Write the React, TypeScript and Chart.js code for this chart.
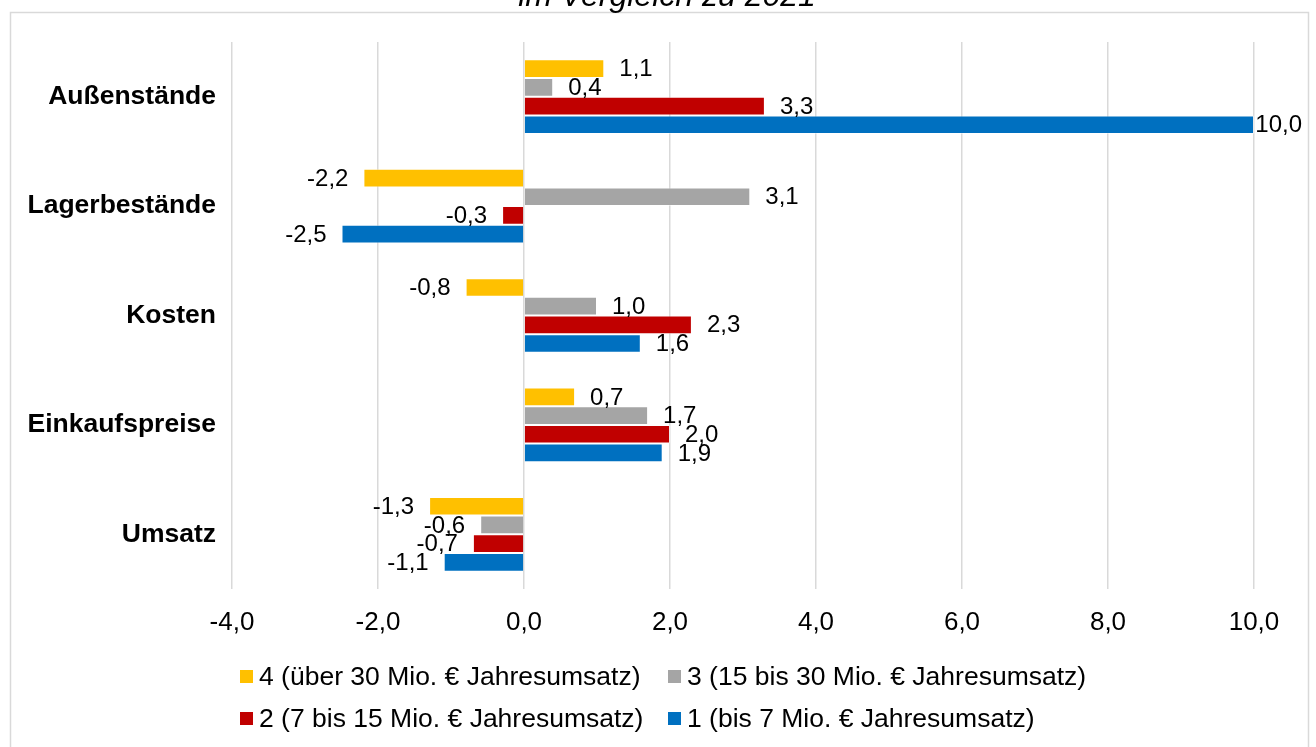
import React, { useEffect, useRef } from 'react';
import { Chart, registerables } from 'chart.js';

Chart.register(...registerables);

const titleText = 'im Vergleich zu 2021';
const categories = ['Außenstände', 'Lagerbestände', 'Kosten', 'Einkaufspreise', 'Umsatz'];
const seriesLabels = [
  '4 (über 30 Mio. € Jahresumsatz)',
  '3 (15 bis 30 Mio. € Jahresumsatz)',
  '2 (7 bis 15 Mio. € Jahresumsatz)',
  '1 (bis 7 Mio. € Jahresumsatz)',
];
const series4 = [1.1, -2.2, -0.8, 0.7, -1.3];
const series3 = [0.4, 3.1, 1.0, 1.7, -0.6];
const series2 = [3.3, -0.3, 2.3, 2.0, -0.7];
const series1 = [10.0, -2.5, 1.6, 1.9, -1.1];
const seriesColors = ['#FFC000', '#A5A5A5', '#C00000', '#0070C0'];
const xMin = -4;
const xMax = 10;
const xStep = 2;

const FONT = "'Liberation Sans', Arial, sans-serif";
const fmt = (v: number) => v.toFixed(1).replace('.', ',');

const decorPlugin = {
  id: 'decor',
  beforeDraw(chart: any) {
    const ctx = chart.ctx;
    ctx.save();
    ctx.fillStyle = '#ffffff';
    ctx.fillRect(0, 0, chart.width, chart.height);
    ctx.strokeStyle = '#d9d9d9';
    ctx.lineWidth = 1.5;
    ctx.strokeRect(10.5, 12.5, chart.width - 18, chart.height + 20);
    ctx.restore();
  },
  afterDraw(chart: any) {
    const ctx = chart.ctx;
    ctx.save();
    // title (partly cut by the top edge)
    ctx.fillStyle = '#000000';
    ctx.font = `italic 32px ${FONT}`;
    ctx.textAlign = 'center';
    ctx.textBaseline = 'alphabetic';
    ctx.fillText(titleText, 667, 6);
    // legend: 2 columns x 2 rows
    const colX = [240, 668];
    const rowY = [677, 719];
    ctx.font = `26.5px ${FONT}`;
    ctx.textAlign = 'left';
    ctx.textBaseline = 'middle';
    chart.data.datasets.forEach((ds: any, i: number) => {
      const cx = colX[i % 2];
      const cy = rowY[Math.floor(i / 2)];
      ctx.fillStyle = ds.backgroundColor;
      ctx.fillRect(cx, cy - 7, 13, 13);
      ctx.fillStyle = '#000000';
      ctx.fillText(ds.label, cx + 19, cy + 1);
    });
    ctx.restore();
  },
};

const labelPlugin = {
  id: 'valueLabels',
  afterDatasetsDraw(chart: any) {
    const ctx = chart.ctx;
    ctx.save();
    ctx.font = `24px ${FONT}`;
    ctx.fillStyle = '#000000';
    ctx.textBaseline = 'middle';
    chart.data.datasets.forEach((ds: any, di: number) => {
      const meta = chart.getDatasetMeta(di);
      meta.data.forEach((el: any, i: number) => {
        const v = ds.data[i] as number;
        const txt = fmt(v);
        const w = ctx.measureText(txt).width;
        if (v >= 0) {
          let x = el.x + 15;
          if (x + w > chart.width - 14) x = chart.width - 14 - w;
          ctx.textAlign = 'left';
          ctx.fillText(txt, x, el.y + 1);
        } else {
          ctx.textAlign = 'right';
          ctx.fillText(txt, el.x - 15, el.y + 1);
        }
      });
    });
    ctx.restore();
  },
};

export default function App() {
  const ref = useRef<HTMLCanvasElement | null>(null);
  useEffect(() => {
    document.body.style.margin = '0';
    if (!ref.current) return;
    const allSeries = [series4, series3, series2, series1];
    const chart = new Chart(ref.current, {
      type: 'bar',
      data: {
        labels: categories,
        datasets: allSeries.map((d, i) => ({
          label: seriesLabels[i],
          data: d,
          backgroundColor: seriesColors[i],
          borderColor: 'rgba(255,255,255,0.45)',
          borderWidth: 1,
          categoryPercentage: 0.683,
          barPercentage: 1.0,
        })),
      },
      options: {
        indexAxis: 'y',
        responsive: false,
        animation: false,
        devicePixelRatio: 1,
        layout: { padding: { left: 10, right: 62, top: 42, bottom: 108 } },
        plugins: {
          legend: { display: false },
          title: { display: false },
          tooltip: { enabled: false },
        },
        scales: {
          x: {
            type: 'linear',
            min: xMin,
            max: xMax,
            ticks: {
              stepSize: xStep,
              callback: (v: any) => fmt(Number(v)),
              font: { family: FONT, size: 26 },
              color: '#000000',
              padding: 18,
              maxRotation: 0,
            },
            grid: { color: '#d9d9d9', lineWidth: 1.5, drawTicks: false },
            border: { display: false },
            afterFit: (scale: any) => {
              scale.height = 50;
            },
          },
          y: {
            type: 'category',
            ticks: {
              font: { family: FONT, size: 26.5, weight: 'bold' },
              color: '#000000',
              padding: 16,
            },
            grid: { display: false, drawTicks: false },
            border: { display: false },
            afterFit: (scale: any) => {
              scale.width = 222;
            },
          },
        },
      },
      plugins: [decorPlugin, labelPlugin],
    } as any);
    return () => chart.destroy();
  }, []);
  return (
    <div style={{ width: 1316, height: 747, overflow: 'hidden' }}>
      <canvas ref={ref} width={1316} height={747} style={{ display: 'block' }} />
    </div>
  );
}
